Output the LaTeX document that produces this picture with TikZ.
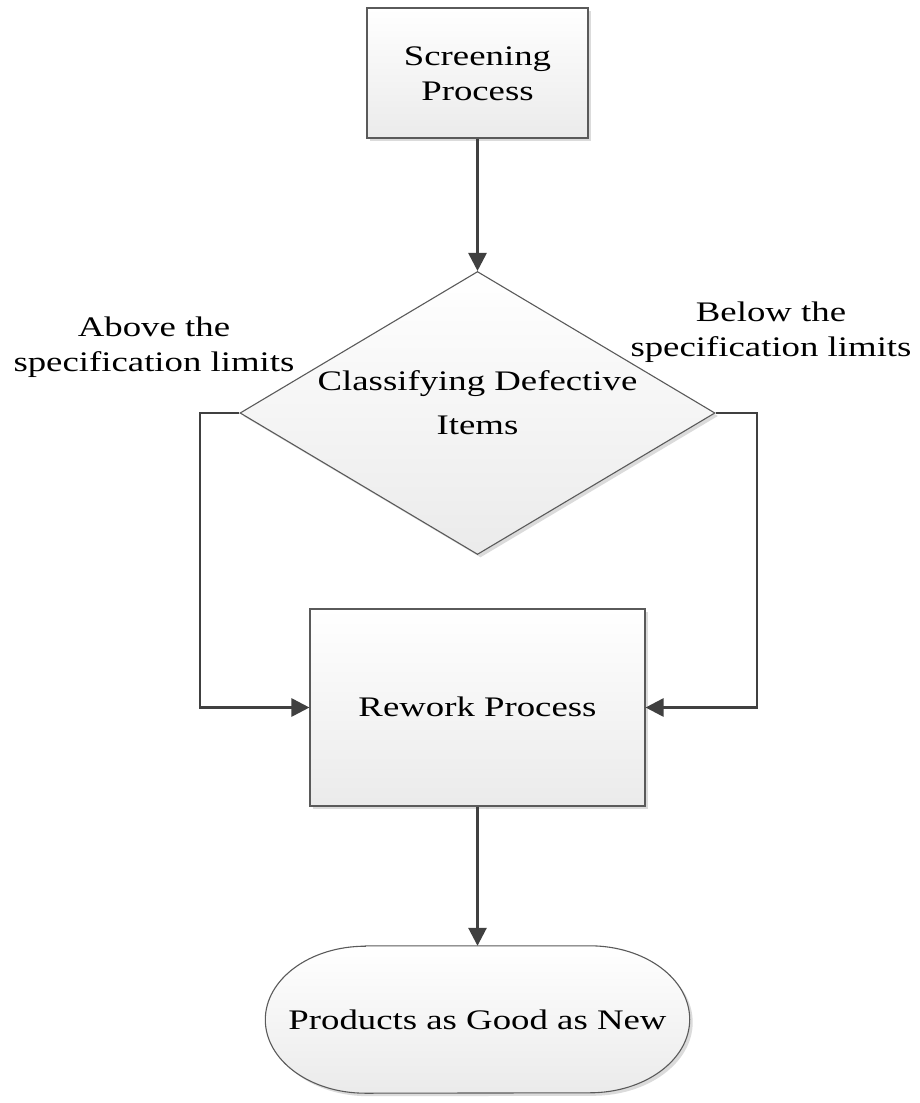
\documentclass[tikz,border=0pt]{standalone}
\usepackage{fontspec}
\setmainfont{Liberation Serif}[FakeStretch=1.3]
\usetikzlibrary{arrows.meta,shapes.geometric,shadows,backgrounds}
\definecolor{conncol}{HTML}{404040}
\definecolor{edgecol}{HTML}{5A5A5A}
\begin{document}
\begin{tikzpicture}[x=1pt,y=-1pt,
  txt/.style={font=\fontsize{28.3pt}{35pt}\selectfont, align=center, inner sep=0pt, text=black},
  shapelook/.style={draw=edgecol, line width=1.1pt, top color=white, bottom color=black!8,
     drop shadow={shadow xshift=3pt, shadow yshift=-3pt, fill=black!14, opacity=1}},
  procbox/.style={shapelook, rectangle, inner sep=0pt},
  decbox/.style={shapelook, diamond, inner sep=0pt},
  conn/.style={draw=conncol, line width=2.8pt, -{Triangle[length=18pt,width=18pt]}}
]
\useasboundingbox (0,0) rectangle (919,1103);
\begin{scope}[on background layer]
\fill[white] (0,0) rectangle (919,1103);
\end{scope}

% shapes
\node[procbox, minimum width=221pt, minimum height=130pt] (scr) at (477.5,73) {};
\node[txt] (scrt) at (477.5,74) {Screening\\Process};

\node[decbox, minimum width=475pt, minimum height=283pt] (cls) at (477.5,413) {};
\node[txt] (clst) at (477.5,402.5) {Classifying Defective\\[9pt]Items};

\node[procbox, minimum width=335pt, minimum height=197pt] (rew) at (477.5,707.5) {};
\node[txt] (rewt) at (477.5,706.5) {Rework Process};

\node[txt, minimum width=424pt, minimum height=147pt] (term) at (477.5,1019.5) {Products as Good as New};
\begin{scope}[on background layer]
\path[shapelook] ([xshift=100pt]term.north west) -- ([xshift=-100pt]term.north east)
   arc[start angle=90, end angle=-90, x radius=100pt, y radius=73.5pt]
   -- ([xshift=100pt]term.south west)
   arc[start angle=270, end angle=90, x radius=100pt, y radius=73.5pt] -- cycle;
\end{scope}

% labels
\node[txt] (above) at (154,346.9) {Above the\\specification limits};
\node[txt] (below) at (771,331.9) {Below the\\specification limits};

% connectors
\coordinate (lc) at (200,413);
\coordinate (rc) at (757,413);
\draw[conn] (scr.south) -- (cls.north);
\draw[conn] (cls.west) -- (lc) |- (rew.west);
\draw[conn] (cls.east) -- (rc) |- (rew.east);
\draw[conn] (rew.south) -- (term.north);
\end{tikzpicture}
\end{document}
